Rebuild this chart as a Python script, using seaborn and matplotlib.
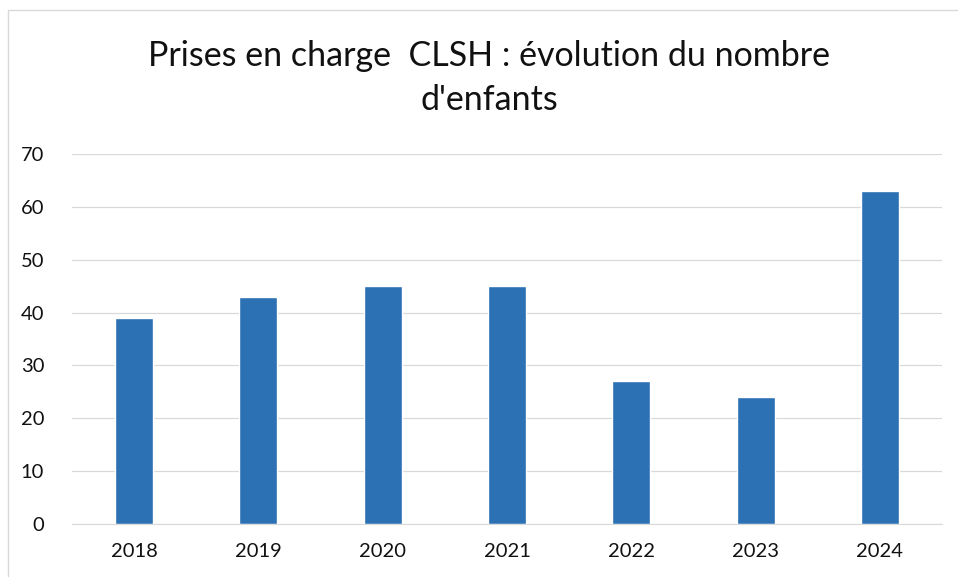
import matplotlib
matplotlib.use("Agg")
import matplotlib.pyplot as plt
import seaborn as sns
import pandas as pd

# données
annees = ["2018", "2019", "2020", "2021", "2022", "2023", "2024"]
nb_enfants = [39, 43, 45, 45, 27, 24, 63]

df = pd.DataFrame({"annee": annees, "enfants": nb_enfants})

sns.set_style("white")
plt.rcParams["font.family"] = ["Lato", "DejaVu Sans"]

fig = plt.figure(figsize=(9.58, 5.77), dpi=100)
ax = fig.add_axes([72 / 958, 1 - 524 / 577, 870 / 958, 370 / 577])

sns.barplot(data=df, x="annee", y="enfants", color="#2B71B4", width=0.305,
            saturation=1, ax=ax)

ax.set_ylim(0, 70)
ax.set_yticks(range(0, 71, 10))
ax.set_xlim(-0.5, len(annees) - 0.5)
ax.yaxis.grid(True, color="#d9d9d9", linewidth=0.9)
ax.set_axisbelow(True)
for s in ax.spines.values():
    s.set_visible(False)
ax.spines["bottom"].set_visible(True)
ax.spines["bottom"].set_color("#d9d9d9")
ax.tick_params(axis="both", length=0, labelsize=14.5, colors="#111111")
ax.tick_params(axis="y", pad=20)
ax.tick_params(axis="x", pad=14)
ax.set_xlabel("")
ax.set_ylabel("")

fig.text(489 / 958, 1 - 78 / 577, "Prises en charge  CLSH : évolution du nombre\nd'enfants",
         ha="center", va="center", fontsize=24.5, linespacing=1.45, color="#111111")

# cadre léger autour du graphique
fig.patches.append(plt.Rectangle((8 / 958, -0.01), 1.0, 1 - 10 / 577 + 0.01,
                                 transform=fig.transFigure, fill=False,
                                 edgecolor="#d9d9d9", linewidth=1))

fig.savefig("out.png", dpi=100)
